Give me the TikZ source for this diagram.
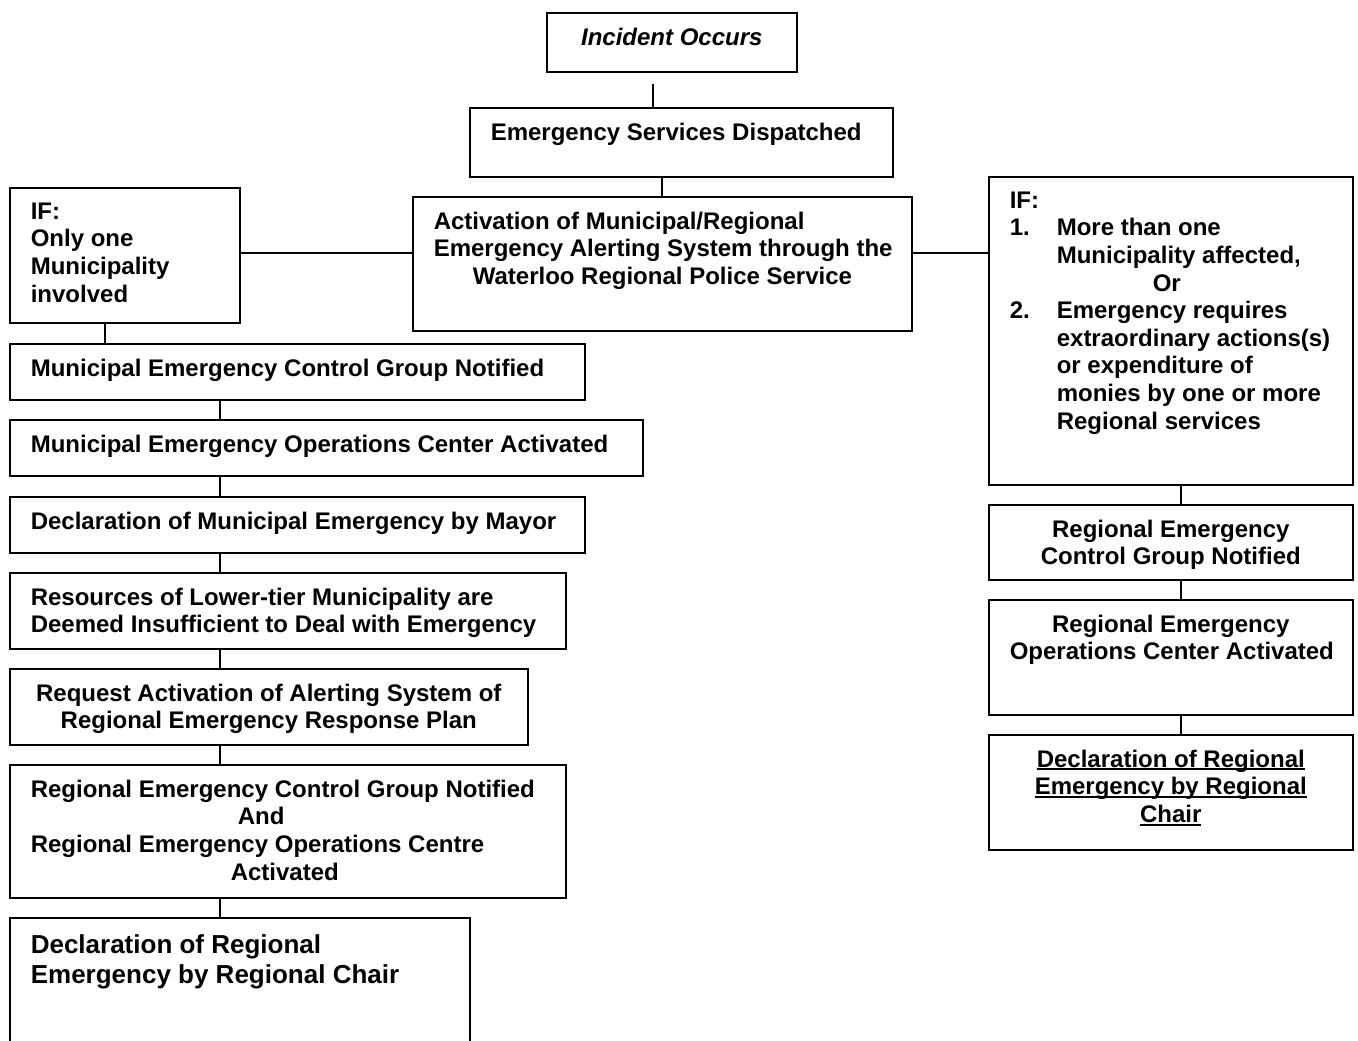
\documentclass[tikz,border=0pt]{standalone}
\usepackage{fontspec}
\setmainfont{Liberation Sans}
\newcommand{\boxtext}[3]{\parbox[c][\dimexpr #2pt/2-15pt\relax][t]{\dimexpr #1pt/2-21pt\relax}{#3}}
\newcommand{\thickul}[1]{\leavevmode\setbox0\hbox{#1}\rlap{\rule[-1.6pt]{\wd0}{1pt}}\box0}
\tikzset{
  box/.style  = {rectangle, draw=black, line width=0.8pt, inner xsep=10.5pt, inner ysep=7.5pt,
                 anchor=north west, font=\fontsize{12}{13.8}\selectfont\bfseries},
  link/.style = {line width=0.8pt},
}

\begin{document}
\begin{tikzpicture}[x=0.5pt, y=-0.5pt]
      \useasboundingbox (0,0) rectangle (1358,1040);

      \node[box] (incident)   at (546,12)  {\boxtext{250}{59}{\centering\itshape Incident Occurs}};
      \node[box] (dispatch)   at (469,107) {\boxtext{423}{69}{\raggedright Emergency Services Dispatched}};
      \node[box] (activation) at (412,196) {\boxtext{499}{134}{\raggedright
          Activation of Municipal/Regional\\
          \mbox{Emergency Alerting System through the}\\
          \hspace*{19.5pt}Waterloo Regional Police Service}};

      \node[box] (ifleft)  at (9,187)   {\boxtext{230}{135}{\raggedright IF:\\Only one\\Municipality\\involved}};
      \node[box] (ifright) at (988,176) {\boxtext{364}{308}{\raggedright
          IF:\\
          \makebox[23.5pt][l]{1.}More than one\\
          \hspace*{23.5pt}Municipality affected,\\
          \hspace*{71.5pt}Or\\
          \makebox[23.5pt][l]{2.}Emergency requires\\
          \hspace*{23.5pt}\mbox{extraordinary actions(s)}\\
          \hspace*{23.5pt}or expenditure of\\
          \hspace*{23.5pt}monies by one or more\\
          \hspace*{23.5pt}Regional services}};

      \node[box] (mcg)   at (9,343) {\boxtext{575}{56}{\raggedright Municipal Emergency Control Group Notified}};
      \node[box] (meo)   at (9,419) {\boxtext{633}{56}{\raggedright Municipal Emergency Operations Center Activated}};
      \node[box] (mdec)  at (9,496) {\boxtext{575}{56}{\raggedright Declaration of Municipal Emergency by Mayor}};
      \node[box] (res)   at (9,572) {\boxtext{556}{76}{\raggedright
          Resources of Lower-tier Municipality are\\
          \mbox{Deemed Insufficient to Deal with Emergency}}};
      \node[box] (req)   at (9,668) {\boxtext{518}{76}{\centering
          Request Activation of Alerting System of\\
          Regional Emergency Response Plan}};
      \node[box] (both)  at (9,764) {\boxtext{556}{133}{\raggedright
          \mbox{Regional Emergency Control Group Notified}\\
          \hspace*{103.5pt}And\\
          Regional Emergency Operations Centre\\
          \hspace*{100pt}Activated}};
      \node[box] (final) at (9,917) {\boxtext{460}{150}{\raggedright\fontsize{13}{15}\selectfont
          \vspace*{1pt}Declaration of Regional\\
          Emergency by Regional Chair}};

      \node[box] (rcg)  at (988,504) {\boxtext{364}{75}{\centering
          Regional Emergency\\Control Group Notified}};
      \node[box] (reo)  at (988,599) {\boxtext{364}{115}{\centering
          Regional Emergency\\\mbox{Operations Center Activated}}};
      \node[box] (rdec) at (988,734) {\boxtext{364}{115}{\centering
          \thickul{Declaration of Regional}\\
          \thickul{Emergency by Regional}\\
          \thickul{Chair}}};

      \coordinate (gap)  at (653,84);
      \coordinate (xmid) at (662,0);
      \coordinate (ymid) at (0,253);
      \coordinate (xif)  at (105,0);
      \coordinate (xl)   at (220,0);
      \coordinate (xr)   at (1181,0);

      \draw[link] (gap) -- (gap |- dispatch.north);
      \draw[link] (dispatch.south -| xmid) -- (activation.north -| xmid);
      \draw[link] (ifleft.east |- ymid) -- (activation.west |- ymid);
      \draw[link] (activation.east |- ymid) -- (ifright.west |- ymid);
      \draw[link] (ifleft.south -| xif) -- (mcg.north -| xif);
      \foreach \a/\b in {mcg/meo, meo/mdec, mdec/res, res/req, req/both, both/final}
        \draw[link] (\a.south -| xl) -- (\b.north -| xl);
      \foreach \a/\b in {ifright/rcg, rcg/reo, reo/rdec}
        \draw[link] (\a.south -| xr) -- (\b.north -| xr);
\end{tikzpicture}
\end{document}
